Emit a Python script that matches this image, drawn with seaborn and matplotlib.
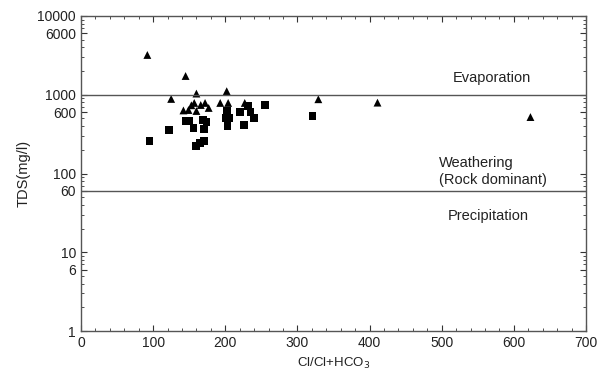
import pandas as pd
import numpy as np
import matplotlib
matplotlib.use("Agg")
import matplotlib.pyplot as plt
import seaborn as sns
from matplotlib.ticker import FixedLocator, MultipleLocator, LogLocator, NullFormatter

# triangles (upper group)
tri_x = [92, 145, 125, 160, 202, 142, 149, 153, 157, 160, 166, 172, 177, 193, 204, 227, 329, 411, 623]
tri_y = [3200, 1730, 885, 1035, 1110, 632, 640, 735, 787, 622, 741, 787, 680, 787, 787, 787, 877, 794, 521]

# squares (lower group)
sq_x = [95, 122, 146, 150, 156, 169, 174, 171, 160, 165, 170, 202, 201, 205, 203, 221, 226, 231, 235, 240, 255, 321]
sq_y = [258, 361, 465, 460, 374, 473, 447, 363, 225, 243, 258, 622, 513, 513, 397, 598, 412, 728, 611, 513, 741, 532]

y_ticks = [1, 6, 10, 60, 100, 600, 1000, 6000, 10000]

df = pd.DataFrame({
    'x': tri_x + sq_x,
    'y': tri_y + sq_y,
    'group': ['tri'] * len(tri_x) + ['sq'] * len(sq_x),
})

sns.set_style("ticks")
plt.rcParams['font.family'] = ['Liberation Sans', 'DejaVu Sans']

fig = plt.figure(figsize=(6.07, 3.78), dpi=100)
ax = fig.add_axes([0.1334, 0.1243, 0.8320, 0.8334])

sns.scatterplot(data=df, x='x', y='y', style='group', markers={'tri': '^', 'sq': 's'},
                color='black', s=32, edgecolor='none', legend=False, ax=ax)

ax.set_yscale('log')
ax.set_xlim(0, 700)
ax.set_ylim(1, 10000)

ax.axhline(1000, color='#555555', lw=1)
ax.axhline(60, color='#555555', lw=1)

ax.yaxis.set_major_locator(FixedLocator(y_ticks))
ax.set_yticklabels([str(t) for t in y_ticks])
ax.yaxis.set_minor_locator(LogLocator(base=10, subs=np.arange(2, 10)))
ax.yaxis.set_minor_formatter(NullFormatter())
ax.xaxis.set_major_locator(MultipleLocator(100))
ax.xaxis.set_minor_locator(MultipleLocator(20))

ax.tick_params(which='both', direction='in', top=True, right=True, labelsize=10, colors='#333333')
ax.tick_params(which='major', length=4, labelcolor='#222222')
ax.tick_params(which='minor', length=2)
for sp in ax.spines.values():
    sp.set_color('#555555')
    sp.set_linewidth(1)

ax.set_xlabel('Cl/Cl+HCO$_3$', fontsize=9.5, color='#222222')
ax.set_ylabel('TDS(mg/l)', fontsize=10.5, color='#222222', labelpad=5)

ax.text(570, 1650, 'Evaporation', ha='center', va='center', fontsize=10.5, color='#222222')
ax.text(496, 106, 'Weathering\n(Rock dominant)', ha='left', va='center', fontsize=10.5,
        color='#222222', linespacing=1.2)
ax.text(565, 29, 'Precipitation', ha='center', va='center', fontsize=10.5, color='#222222')

fig.savefig('out.png', dpi=100)
